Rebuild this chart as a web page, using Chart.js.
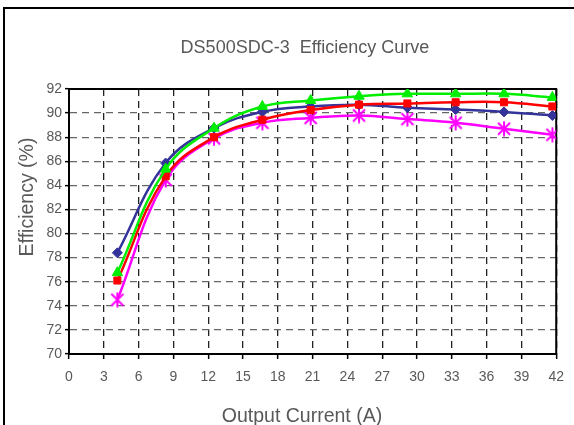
<!DOCTYPE html>
<html>
<head>
<meta charset="utf-8">
<script src="https://cdn.jsdelivr.net/npm/chart.js@4"></script>
<style>
  html, body { margin: 0; padding: 0; background: #fff; }
  #wrap { width: 574px; height: 425px; position: relative; }
</style>
</head>
<body>
<div id="wrap"><canvas id="effChart" width="574" height="425"></canvas></div>
<script>
// output current (A) of each measured point
const currents = [4.17, 8.33, 12.5, 16.67, 20.83, 25, 29.17, 33.33, 37.5, 41.67];

// efficiency (%) per curve
const effBlue    = [78.4, 85.85, 88.75, 90.1, 90.55, 90.7, 90.45, 90.3, 90.1, 89.8];
const effRed     = [76.1, 84.75, 88.0, 89.45, 90.25, 90.7, 90.8, 90.9, 90.9, 90.55];
const effGreen   = [76.75, 85.35, 88.75, 90.55, 91.05, 91.4, 91.6, 91.6, 91.6, 91.3];
const effMagenta = [74.5, 84.45, 87.9, 89.2, 89.6, 89.8, 89.5, 89.2, 88.7, 88.2];

const xTicks = [0, 3, 6, 9, 12, 15, 18, 21, 24, 27, 30, 33, 36, 39, 42];
const yTicks = [70, 72, 74, 76, 78, 80, 82, 84, 86, 88, 90, 92];

const chartTitle = 'DS500SDC-3  Efficiency Curve';
const xTitle = 'Output Current (A)';
const yTitle = 'Efficiency (%)';

const textGrey = '#595959';
const fontFam = '"Liberation Sans", Arial, sans-serif';

function toPoints(ys) {
  return currents.map((x, i) => ({ x: x, y: ys[i] }));
}

// asterisk marker (x + vertical bar) like the spreadsheet "star"
function makeStar(color) {
  const c = document.createElement('canvas');
  c.width = 16; c.height = 16;
  const g = c.getContext('2d');
  g.strokeStyle = color;
  g.lineWidth = 2;
  g.beginPath();
  g.moveTo(2, 2); g.lineTo(14, 14);
  g.moveTo(14, 2); g.lineTo(2, 14);
  g.moveTo(8, 0.5); g.lineTo(8, 15.5);
  g.stroke();
  return c;
}

// outer border, plot frame and the three titles
const framePlugin = {
  id: 'frames',
  beforeDraw(chart) {
    const ctx = chart.ctx;
    ctx.save();
    ctx.setLineDash([]);
    ctx.strokeStyle = '#000';
    ctx.lineWidth = 2;
    ctx.beginPath();
    ctx.moveTo(4, 425);
    ctx.lineTo(4, 8);
    ctx.lineTo(574, 8);
    ctx.stroke();
    ctx.restore();
  },
  beforeDatasetsDraw(chart) {
    const a = chart.chartArea;
    const ctx = chart.ctx;
    ctx.save();
    ctx.setLineDash([]);
    ctx.strokeStyle = '#000';
    ctx.lineWidth = 2;
    ctx.strokeRect(a.left, a.top, a.right - a.left, a.bottom - a.top);
    ctx.restore();
  },
  afterDraw(chart) {
    const ctx = chart.ctx;
    ctx.save();
    ctx.fillStyle = textGrey;
    ctx.textAlign = 'center';
    ctx.textBaseline = 'alphabetic';
    ctx.font = '18px ' + fontFam;
    ctx.fillText(chartTitle, 305, 52.5);
    ctx.font = '19.5px ' + fontFam;
    ctx.fillText(xTitle, 302, 422);
    ctx.translate(27.5, 197);
    ctx.rotate(-Math.PI / 2);
    ctx.textBaseline = 'middle';
    ctx.font = '19.5px ' + fontFam;
    ctx.fillText(yTitle, 0, 0);
    ctx.restore();
  }
};

function series(data, color, style, radius) {
  return {
    data: toPoints(data),
    borderColor: color,
    backgroundColor: color,
    borderWidth: 2.5,
    pointStyle: style,
    pointRadius: radius,
    pointHoverRadius: radius,
    pointBorderWidth: 1,
    tension: 0.4,
    fill: false
  };
}

const ctx = document.getElementById('effChart').getContext('2d');
new Chart(ctx, {
  type: 'line',
  data: {
    datasets: [
      series(effGreen, '#00ee00', 'triangle', 6),
      series(effRed, '#ff0000', 'rect', 5),
      series(effBlue, '#333399', 'rectRot', 5),
      Object.assign(series(effMagenta, '#ff00ff', makeStar('#ff00ff'), 8), { pointBorderWidth: 0 })
    ]
  },
  options: {
    responsive: false,
    animation: false,
    devicePixelRatio: 1,
    layout: { padding: { left: 0, right: 15, top: 89, bottom: 0 } },
    plugins: {
      legend: { display: false },
      tooltip: { enabled: false },
      title: { display: false }
    },
    scales: {
      x: {
        type: 'linear',
        min: 0,
        max: 42,
        afterBuildTicks(scale) { scale.ticks = xTicks.map(v => ({ value: v })); },
        afterFit(scale) { scale.height = 71; },
        ticks: {
          color: textGrey,
          font: { family: fontFam, size: 14 },
          padding: 10,
          maxRotation: 0,
          autoSkip: false
        },
        grid: {
          color: '#222',
          lineWidth: 1.3,
          tickLength: 5,
          tickColor: '#000',
          tickWidth: 1.5,
          tickBorderDash: []
        },
        border: { display: true, color: '#000', width: 2, dash: [7, 5] }
      },
      y: {
        min: 70,
        max: 92,
        afterBuildTicks(scale) { scale.ticks = yTicks.map(v => ({ value: v })); },
        afterFit(scale) { scale.width = 69; },
        ticks: {
          color: textGrey,
          font: { family: fontFam, size: 14 },
          padding: 3,
          autoSkip: false
        },
        grid: {
          color: '#666',
          lineWidth: 1.3,
          tickLength: 4,
          tickColor: '#000',
          tickWidth: 1.5,
          tickBorderDash: []
        },
        border: { display: true, color: '#000', width: 2, dash: [7, 5] }
      }
    }
  },
  plugins: [framePlugin]
});
</script>
</body>
</html>
